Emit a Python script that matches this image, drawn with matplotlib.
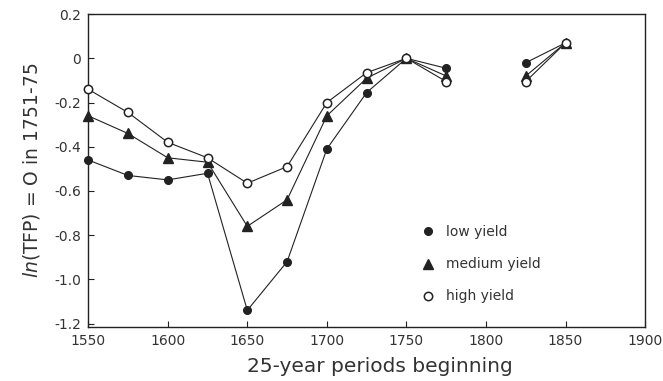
import matplotlib
matplotlib.use("Agg")
import matplotlib.pyplot as plt
import numpy as np

years_a = [1550, 1575, 1600, 1625, 1650, 1675, 1700, 1725, 1750, 1775]
years_b = [1825, 1850]

low_a = [-0.46, -0.53, -0.55, -0.52, -1.14, -0.92, -0.41, -0.155, 0.0, -0.045]
low_b = [-0.02, 0.07]
med_a = [-0.26, -0.34, -0.45, -0.47, -0.76, -0.64, -0.26, -0.09, 0.0, -0.08]
med_b = [-0.08, 0.07]
high_a = [-0.14, -0.245, -0.38, -0.45, -0.565, -0.49, -0.20, -0.065, 0.0, -0.105]
high_b = [-0.105, 0.07]

xticks = [1550, 1600, 1650, 1700, 1750, 1800, 1850, 1900]
yticks = [0.2, 0, -0.2, -0.4, -0.6, -0.8, -1.0, -1.2]
ytick_labels = ["0.2", "0", "-0.2", "-0.4", "-0.6", "-0.8", "-1.0", "-1.2"]

plt.rcParams['font.family'] = ['DejaVu Sans']
fig = plt.figure(figsize=(6.63, 3.81), dpi=100)
ax = fig.add_axes([0.133, 0.142, 0.840, 0.821])

lc = '#222222'
series = [
    (low_a, low_b, dict(marker='o', markersize=5.5, markerfacecolor=lc, markeredgecolor=lc), 'low yield'),
    (med_a, med_b, dict(marker='^', markersize=7.5, markerfacecolor=lc, markeredgecolor=lc), 'medium yield'),
    (high_a, high_b, dict(marker='o', markersize=6, markerfacecolor='white', markeredgecolor=lc, markeredgewidth=1.1), 'high yield'),
]
for ya, yb, style, lab in series:
    ax.plot(years_a, ya, color=lc, linewidth=0.8, clip_on=False, zorder=3, **style)
    ax.plot(years_b, yb, color=lc, linewidth=0.8, clip_on=False, zorder=3, label=lab, **style)

ax.set_xlim(1550, 1898)
ax.set_ylim(-1.215, 0.2)
ax.set_xticks(xticks)
ax.set_xticklabels([str(x) for x in xticks], fontsize=10, color='#333333')
ax.set_yticks(yticks)
ax.set_yticklabels(ytick_labels, fontsize=10, color='#333333')
ax.tick_params(direction='in', length=4, width=0.8, color=lc, pad=5)
for s in ax.spines.values():
    s.set_linewidth(1.0)
    s.set_color(lc)

ax.set_xlabel("25-year periods beginning", fontsize=14.5, color='#333333')
ax.xaxis.set_label_coords(0.523, -0.095)
ax.set_ylabel(r"$\it{ln}$(TFP) = O in 1751-75", fontsize=13.5, color='#333333', labelpad=9)

leg = ax.legend(loc='lower left', bbox_to_anchor=(0.578, 0.035), frameon=False,
                fontsize=10, handlelength=0.8, handletextpad=0.9, labelspacing=1.3,
                numpoints=1)
for line in leg.get_lines():
    line.set_linestyle('none')
for t in leg.get_texts():
    t.set_color('#333333')

fig.savefig("out.png", dpi=100)
